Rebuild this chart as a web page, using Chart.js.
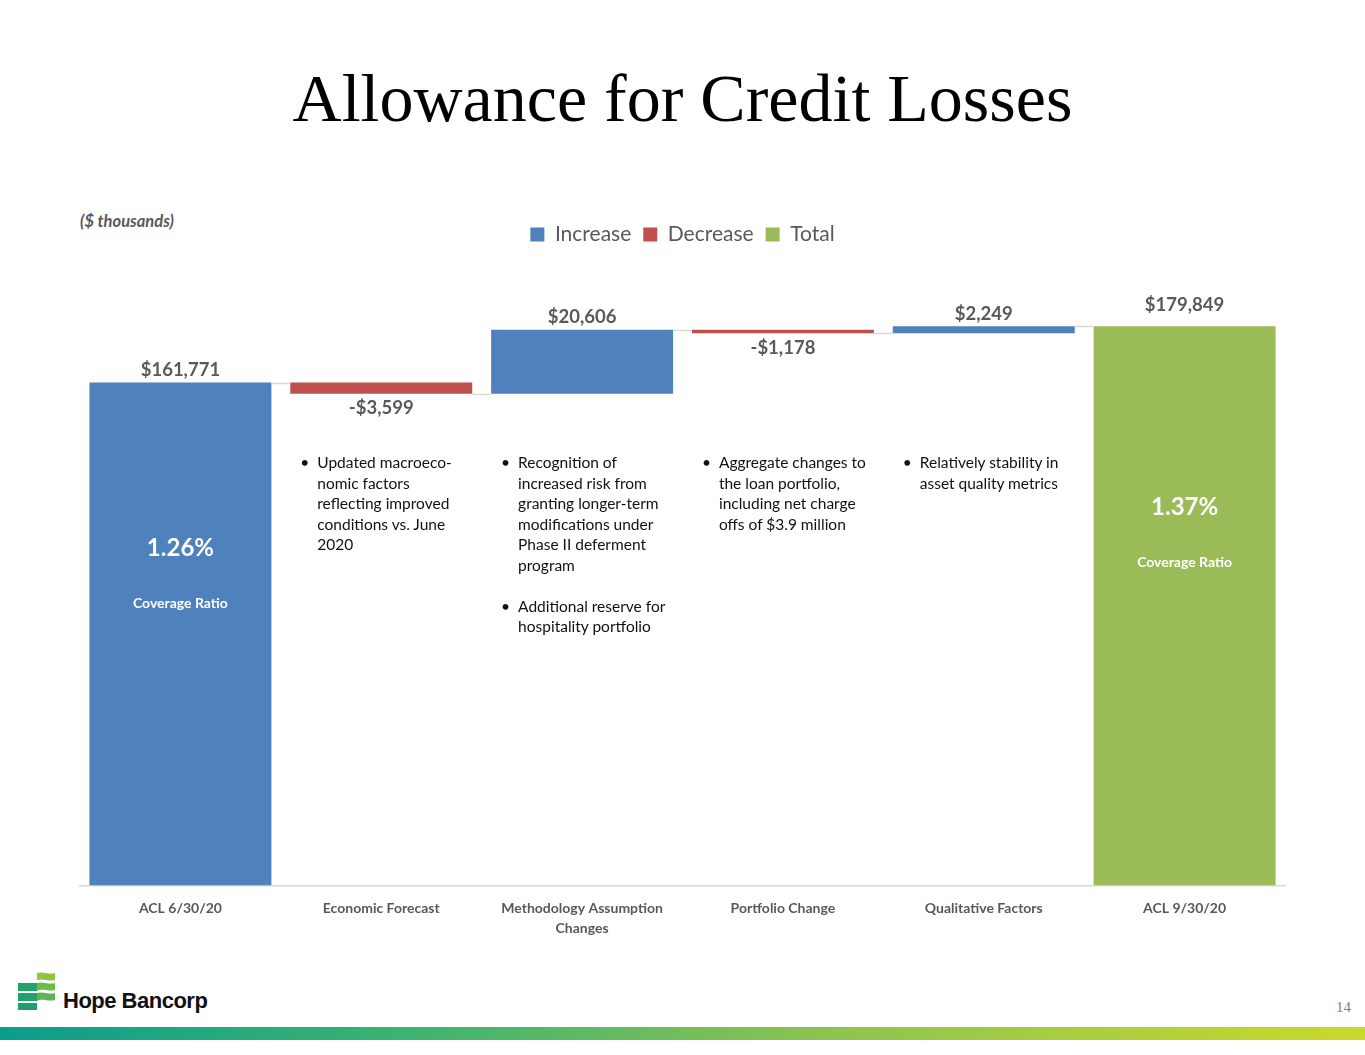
<!DOCTYPE html>
<html lang="en">
<head>
  <meta charset="utf-8">
  <title>Allowance for Credit Losses</title>
  <script src="https://cdn.jsdelivr.net/npm/chart.js@4.4.0/dist/chart.umd.min.js"></script>
  <style>
    body { margin: 0; width: 1365px; height: 1055px; position: relative; overflow: hidden; background: #fff; font-family: Lato, "Open Sans", sans-serif; }
    h1 { position: absolute; left: 0; top: 64px; width: 100%; margin: 0; text-align: center;
         font-family: "Liberation Serif", "Times New Roman", serif; font-weight: normal; font-size: 68px; line-height: 68px; color: #000; }
    .units { position: absolute; left: 80px; top: 211px; font-size: 16.5px; font-weight: bold; font-style: italic; color: #595959; }
    #chartBox { position: absolute; left: 0; top: 200px; width: 1365px; height: 754px; }
    .note { position: absolute; top: 452px; width: 185px; font-size: 15.5px; line-height: 20.5px; color: #111; }
    .note p { margin: 0 0 20.5px 0; padding-left: 17px; position: relative; }
    .note p::before { content: "\2022"; position: absolute; left: 0; }
    .logo { position: absolute; left: 18px; top: 971px; }
    .brand { position: absolute; left: 63px; top: 988px; font-family: "Liberation Sans", Arial, sans-serif; font-weight: bold; font-size: 22px; color: #111; letter-spacing: -0.5px; }
    .page { position: absolute; left: 1336px; top: 999px; font-family: "Liberation Serif", serif; font-size: 15px; color: #7f7f7f; }
    .band { position: absolute; left: 0; top: 1027px; width: 1365px; height: 13px;
            background: linear-gradient(to right, #0a9e8c 0%, #3cb371 30%, #8cc350 60%, #cad92a 100%); }
  </style>
</head>
<body>
  <h1>Allowance for Credit Losses</h1>
  <div class="units">($ thousands)</div>
  <div id="chartBox"><canvas id="acl"></canvas></div>

  <svg class="logo" width="38" height="40" viewBox="0 0 38 40">
    <path d="M19 2 C25 0 31 4 37 2 L37 9 C31 11 25 7 19 9 Z" fill="#8dc63f"/>
    <rect x="0" y="12" width="19" height="8" fill="#1fa56b"/>
    <path d="M19 12 C25 10 31 14 37 12 L37 19 C31 21 25 17 19 20 Z" fill="#6dbb4a"/>
    <rect x="0" y="22" width="19" height="8" fill="#1fa56b"/>
    <path d="M19 22 C25 20 31 24 37 22 L37 29 C31 31 25 27 19 30 Z" fill="#5db653"/>
    <rect x="0" y="32" width="19" height="7" fill="#1f9f6b"/>
  </svg>
  <div class="brand">Hope Bancorp</div>
  <div class="page">14</div>
  <div class="band"></div>

  <script>
    // categories and waterfall values ($ thousands)
    const categories = ['ACL 6/30/20', 'Economic Forecast', ['Methodology Assumption', 'Changes'],
                        'Portfolio Change', 'Qualitative Factors', 'ACL 9/30/20'];
    const values = [161771, -3599, 20606, -1178, 2249, 179849];
    const kinds = ['start', 'change', 'change', 'change', 'change', 'total'];
    const coverage = ['1.26%', null, null, null, null, '1.37%'];
    const notes = [
      null,
      [['Updated macroeco-', 'nomic factors', 'reflecting improved', 'conditions vs. June', '2020']],
      [['Recognition of', 'increased risk from', 'granting longer-term', 'modifications under', 'Phase II deferment', 'program'],
       ['Additional reserve for', 'hospitality portfolio']],
      [['Aggregate changes to', 'the loan portfolio,', 'including net charge', 'offs of $3.9 million']],
      [['Relatively stability in', 'asset quality metrics']],
      null
    ];

    const BLUE = '#4f81bd', RED = '#c0504d', GREEN = '#9bbb59', GREY = '#595959';

    // floating bar ranges from the running total
    const increase = [], decrease = [], total = [], levels = [];
    let run = 0;
    values.forEach((v, i) => {
      increase.push(null); decrease.push(null); total.push(null);
      if (kinds[i] === 'start') { increase[i] = [0, v]; run = v; }
      else if (kinds[i] === 'total') { total[i] = [0, v]; run = v; }
      else if (v >= 0) { increase[i] = [run, run + v]; run += v; }
      else { decrease[i] = [run + v, run]; run += v; }
      levels.push(run);
    });

    const fmt = v => (v < 0 ? '-$' : '$') + Math.abs(v).toLocaleString('en-US');

    const extras = {
      id: 'extras',
      afterDatasetsDraw(chart) {
        const { ctx, scales: { y } } = chart;
        const barAt = i => {
          for (let d = 0; d < chart.data.datasets.length; d++) {
            if (chart.data.datasets[d].data[i] !== null) return chart.getDatasetMeta(d).data[i];
          }
        };
        ctx.save();
        // connector lines
        ctx.strokeStyle = '#d9d9d9';
        ctx.lineWidth = 1.5;
        for (let i = 0; i < values.length - 1; i++) {
          const a = barAt(i), b = barAt(i + 1);
          const py = Math.round(y.getPixelForValue(levels[i])) + 0.5;
          ctx.beginPath();
          ctx.moveTo(a.x + a.width / 2, py);
          ctx.lineTo(b.x - b.width / 2, py);
          ctx.stroke();
        }
        // value labels
        ctx.font = 'bold 18.5px Lato, sans-serif';
        ctx.fillStyle = GREY;
        ctx.textAlign = 'center';
        values.forEach((v, i) => {
          const bar = barAt(i);
          const top = Math.min(bar.y, bar.base), bottom = Math.max(bar.y, bar.base);
          if (v < 0) { ctx.textBaseline = 'top'; ctx.fillText(fmt(v), bar.x, bottom + 5); }
          else { ctx.textBaseline = 'bottom'; ctx.fillText(fmt(v), bar.x, top - (kinds[i] === 'total' ? 12 : 3)); }
        });
        // coverage ratio inside the end bars
        ctx.fillStyle = '#fff';
        ctx.textBaseline = 'middle';
        const ratioY = { 0: 348, 5: 307 };
        coverage.forEach((c, i) => {
          if (!c) return;
          const bar = barAt(i);
          ctx.font = 'bold 24px Lato, sans-serif';
          ctx.fillText(c, bar.x, ratioY[i]);
          ctx.font = 'bold 14px Lato, sans-serif';
          ctx.fillText('Coverage Ratio', bar.x, ratioY[i] + 55);
        });
        ctx.restore();
      }
    };

    const chart = new Chart(document.getElementById('acl'), {
      type: 'bar',
      data: {
        labels: categories,
        datasets: [
          { label: 'Increase', data: increase, backgroundColor: BLUE },
          { label: 'Decrease', data: decrease, backgroundColor: RED },
          { label: 'Total', data: total, backgroundColor: GREEN }
        ]
      },
      options: {
        responsive: true,
        maintainAspectRatio: false,
        animation: false,
        layout: { padding: { left: 80, right: 80, top: 12, bottom: 10 } },
        datasets: { bar: { grouped: false, categoryPercentage: 1, barPercentage: 0.906, borderWidth: 0 } },
        plugins: {
          legend: {
            position: 'top',
            labels: { boxWidth: 14, boxHeight: 14, padding: 12, color: GREY, font: { family: 'Lato', size: 21 } }
          },
          tooltip: { enabled: false }
        },
        scales: {
          x: {
            grid: { display: false },
            border: { color: '#d9d9d9', width: 1.5 },
            ticks: { color: GREY, padding: 5, maxRotation: 0, autoSkip: false, font: { family: 'Lato', size: 14, weight: 'bold', lineHeight: 1.45 } }
          },
          y: { display: false, min: 0, max: 202800 }
        }
      },
      plugins: [extras]
    });

    // bullet notes under each change bar
    notes.forEach((list, i) => {
      if (!list) return;
      const div = document.createElement('div');
      div.className = 'note';
      div.style.left = (chart.scales.x.getPixelForValue(i) - 81) + 'px';
      list.forEach(lines => {
        const p = document.createElement('p');
        p.innerHTML = lines.join('<br>');
        div.appendChild(p);
      });
      document.body.appendChild(div);
    });
  </script>
</body>
</html>
